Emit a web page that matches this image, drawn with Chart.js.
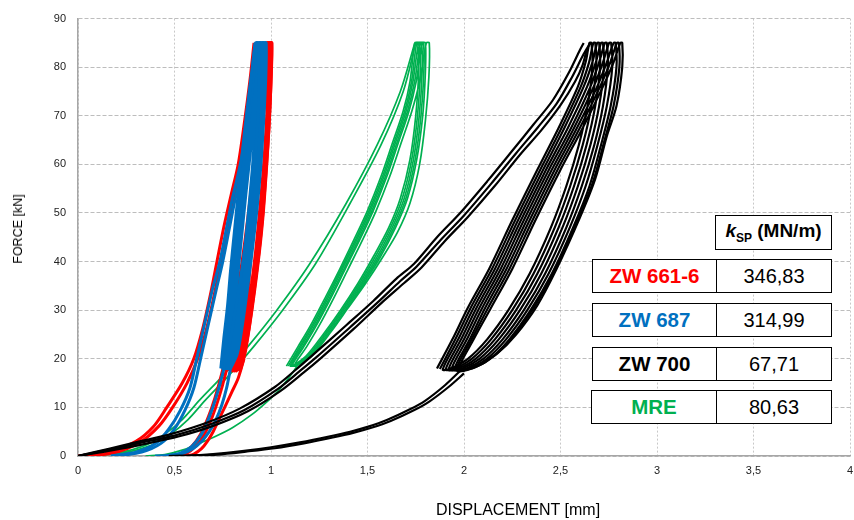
<!DOCTYPE html>
<html>
<head>
<meta charset="utf-8">
<script src="https://cdn.jsdelivr.net/npm/chart.js@4.4.0/dist/chart.umd.min.js"></script>
<style>
  body { margin: 0; background: #fff; }
  #wrap { position: relative; width: 854px; height: 520px; }
  #myChart { position: absolute; left: 0; top: 0; }
  .ttl { position: absolute; font-family: "Liberation Sans", Arial, sans-serif; color: #000; white-space: nowrap; }
  #ytitle { left: 18px; top: 229px; font-size: 12.5px; transform: translate(-50%, -50%) rotate(-90deg); }
  #xtitle { left: 518px; top: 510px; font-size: 16px; transform: translate(-50%, -50%); font-family: "Liberation Sans Narrow", "Arial Narrow", sans-serif; }
  .box { position: absolute; box-sizing: border-box; border: 1px solid #000; background: #fff;
         display: flex; align-items: center; justify-content: center;
         font-family: "Liberation Sans", Arial, sans-serif; font-size: 20px; color: #000; }
  .lbl { font-weight: bold; font-size: 20.5px; }
</style>
</head>
<body>
<div id="wrap">
  <canvas id="myChart" width="854" height="520"></canvas>
  <div class="ttl" id="ytitle">FORCE [kN]</div>
  <div class="ttl" id="xtitle">DISPLACEMENT [mm]</div>
  <div id="table"></div>
</div>
<script>
const ctx = document.getElementById('myChart');

// axis ticks
var xTickLabels = ['0', '0,5', '1', '1,5', '2', '2,5', '3', '3,5', '4'];
var yTickLabels = ['0', '10', '20', '30', '40', '50', '60', '70', '80', '90'];

// table inside the plot
var samples = ['ZW 661-6', 'ZW 687', 'ZW 700', 'MRE'];
var kspValues = ['346,83', '314,99', '67,71', '80,63'];
var sampleColors = ['#ff0000', '#0070c0', '#000000', '#00b050'];

// ZW 661-6 : displacement [mm], force [kN]
var zw661 = [
  [[0,0],[0.15,0.6],[0.3,3],[0.39,6],[0.46,10],[0.54,15],[0.6,20],[0.645,26],[0.685,33],[0.72,40],[0.755,47],[0.795,54],[0.83,60],[0.86,68],[0.89,77],[0.912,85]],
  [[0.03,0],[0.18,0.6],[0.32,2.8],[0.42,6.2],[0.49,10],[0.565,15],[0.62,20],[0.665,26],[0.705,33],[0.74,40],[0.775,47],[0.81,54],[0.845,60],[0.875,68],[0.9,77],[0.92,85]],
  [[0.93,85],[0.935,77],[0.925,68],[0.905,58],[0.88,49],[0.85,40],[0.815,31],[0.78,23],[0.745,17],[0.71,12],[0.675,8],[0.635,4.5],[0.59,2],[0.54,0.5],[0.49,0]],
  [[0.95,85],[0.952,77],[0.942,68],[0.922,58],[0.897,49],[0.868,40],[0.835,31],[0.8,23],[0.765,17],[0.73,12],[0.695,8],[0.655,4.5],[0.61,2],[0.56,0.5],[0.51,0]],
  [[0.78,17.5],[0.805,22],[0.83,29],[0.85,36],[0.87,43],[0.895,52],[0.915,61],[0.935,70],[0.955,78],[0.975,85],
   [0.985,85],[0.985,77],[0.975,68],[0.96,59],[0.94,50],[0.92,42],[0.895,34],[0.865,26],[0.835,20],[0.8,17.5],
   [0.825,22],[0.85,29],[0.87,36],[0.89,43],[0.91,52],[0.93,61],[0.95,70],[0.97,78],[0.99,85],
   [1.0,85],[0.998,77],[0.988,68],[0.975,60],[0.955,50],[0.935,42],[0.91,34],[0.88,26],[0.855,21],[0.82,17.5],
   [0.84,22],[0.865,29],[0.885,36],[0.9,43],[0.92,52],[0.94,61],[0.96,70],[0.978,78],[0.995,85],
   [1.005,85],[1.0,77],[0.99,68],[0.978,60],[0.96,50],[0.94,42],[0.915,34],[0.89,27],[0.865,21],[0.84,17.5]],
  [[0.79,17.5],[0.815,22],[0.84,29],[0.86,36],[0.88,43],[0.903,52],[0.923,61],[0.943,70],[0.962,78],[0.982,85],
   [0.992,85],[0.992,77],[0.982,68],[0.968,59],[0.948,50],[0.928,42],[0.903,34],[0.873,26],[0.845,20],[0.81,17.5],
   [0.833,22],[0.858,29],[0.878,36],[0.896,43],[0.916,52],[0.936,61],[0.956,70],[0.975,78],[0.993,85],
   [1.003,85],[1.0,77],[0.99,68],[0.977,60],[0.958,50],[0.938,42],[0.913,34],[0.885,26],[0.86,21],[0.83,17.5]],
  [[0.86,20],[0.83,16],[0.795,13],[0.76,10],[0.73,7.5],[0.7,5],[0.67,3],[0.64,1.5],[0.6,0.4],[0.56,0]]
];

// ZW 687
var zw687 = [
  [[0.17,0],[0.3,0.8],[0.4,2.5],[0.47,5.5],[0.53,9.4],[0.58,14],[0.615,20],[0.655,27],[0.695,34],[0.735,40],[0.77,47],[0.8,53],[0.83,58],[0.855,63],[0.88,71],[0.9,78],[0.917,85]],
  [[0.2,0],[0.33,0.8],[0.43,2.6],[0.5,5.6],[0.555,9.5],[0.6,14],[0.635,20],[0.675,27],[0.715,34],[0.75,40],[0.785,47],[0.815,53],[0.845,58],[0.868,63],[0.89,71],[0.91,78],[0.925,85]],
  [[0.935,85],[0.94,77],[0.93,68],[0.91,58],[0.885,49],[0.855,40],[0.82,31],[0.785,23],[0.75,17],[0.715,12],[0.68,8],[0.64,4.5],[0.59,2],[0.53,0.6],[0.45,0]],
  [[0.74,18],[0.755,24],[0.775,31],[0.79,38],[0.81,46],[0.83,54],[0.85,62],[0.875,71],[0.9,79],[0.92,85],
   [0.93,85],[0.93,78],[0.92,69],[0.905,60],[0.885,51],[0.865,43],[0.84,35],[0.81,27],[0.785,21],[0.75,18],
   [0.765,24],[0.785,31],[0.8,38],[0.82,46],[0.84,54],[0.862,62],[0.888,71],[0.912,79],[0.935,85],
   [0.945,85],[0.945,78],[0.935,69],[0.92,60],[0.9,51],[0.88,43],[0.855,35],[0.825,27],[0.8,21],[0.765,18],
   [0.78,24],[0.8,31],[0.815,38],[0.835,46],[0.855,54],[0.877,62],[0.902,71],[0.926,79],[0.95,85],
   [0.96,85],[0.96,78],[0.95,69],[0.935,60],[0.915,51],[0.893,43],[0.868,35],[0.84,27],[0.815,21],[0.78,18],
   [0.795,24],[0.815,31],[0.83,38],[0.85,46],[0.87,54],[0.892,62],[0.916,71],[0.94,79],[0.965,85],
   [0.975,85],[0.973,78],[0.962,69],[0.948,60],[0.928,51],[0.905,43],[0.88,35],[0.852,27],[0.825,21],[0.79,18]],
  [[0.747,18],[0.762,24],[0.782,31],[0.797,38],[0.817,46],[0.837,54],[0.857,62],[0.882,71],[0.907,79],[0.927,85],
   [0.937,85],[0.937,78],[0.927,69],[0.912,60],[0.892,51],[0.872,43],[0.847,35],[0.817,27],[0.792,21],[0.757,18],
   [0.772,24],[0.792,31],[0.807,38],[0.827,46],[0.847,54],[0.869,62],[0.895,71],[0.919,79],[0.942,85],
   [0.952,85],[0.952,78],[0.942,69],[0.927,60],[0.907,51],[0.887,43],[0.862,35],[0.832,27],[0.807,21],[0.772,18],
   [0.787,24],[0.807,31],[0.822,38],[0.842,46],[0.862,54],[0.884,62],[0.909,71],[0.933,79],[0.957,85],
   [0.967,85],[0.967,78],[0.957,69],[0.942,60],[0.922,51],[0.9,43],[0.875,35],[0.847,27],[0.822,21],[0.787,18]],
  [[0.79,18],[0.77,14],[0.745,10.5],[0.715,7.5],[0.68,5],[0.64,3],[0.595,1.5],[0.54,0.5],[0.47,0.1],[0.4,0]]
];

// ZW 700
var zw700 = [
  [[0,0],[0.17,1.4],[0.345,2.9],[0.5,4.2],[0.69,6.6],[0.86,9.4],[1.036,13.8],[1.15,17.5],[1.24,20.5],[1.41,26.5],[1.55,31.5],[1.67,36],[1.755,39],[1.88,44.5],[2.0,49.5],[2.14,56],[2.27,62.3],[2.38,67.5],[2.48,72.5],[2.56,78],[2.62,82.7],[2.655,85]],
  [[0,0],[0.18,1.2],[0.36,2.6],[0.52,4.0],[0.7,6.2],[0.88,9.2],[1.05,13.4],[1.17,17.2],[1.26,20.2],[1.43,26.2],[1.57,31.4],[1.69,35.6],[1.78,38.8],[1.9,44.2],[2.02,49.2],[2.16,55.6],[2.29,62],[2.4,67],[2.5,72.2],[2.575,77],[2.615,80.5],[2.635,83.5]],
  [[0,0],[0.16,1.5],[0.33,3.1],[0.48,4.5],[0.67,6.9],[0.84,9.8],[1.02,14.2],[1.13,17.8],[1.22,20.9],[1.39,26.9],[1.53,31.9],[1.65,36.5],[1.74,39.5],[1.86,45],[1.98,50],[2.12,56.5],[2.25,62.8],[2.36,68.2],[2.46,73.2],[2.545,79],[2.6,83.5],[2.62,85]],
  [[1.86,18],[1.94,24],[2.02,30.5],[2.13,38.5],[2.25,48.5],[2.38,58.9],[2.49,67.5],[2.59,76],[2.63,81],[2.65,85],
   [2.66,85],[2.665,80],[2.64,72],[2.595,64],[2.53,55.5],[2.45,47],[2.34,37.5],[2.23,30],[2.12,24],[2.02,20],[1.93,18],[1.89,17.8],
   [1.97,24],[2.05,30.5],[2.16,38.5],[2.28,48.5],[2.41,58.9],[2.52,67.5],[2.62,76],[2.665,81],[2.69,85],
   [2.7,85],[2.705,80],[2.68,72],[2.635,64],[2.57,55.5],[2.49,47],[2.38,37.5],[2.27,30],[2.16,24],[2.06,20],[1.97,18],[1.92,17.8],
   [2.0,24],[2.08,30.5],[2.19,38.5],[2.31,48.5],[2.44,58.9],[2.555,67.5],[2.655,76],[2.7,81],[2.73,85],
   [2.74,85],[2.745,80],[2.72,72],[2.675,64],[2.61,55.5],[2.53,47],[2.42,37.5],[2.31,30],[2.2,24],[2.1,20],[2.01,18],[1.95,17.8],
   [2.03,24],[2.11,30.5],[2.22,38.5],[2.34,48.5],[2.47,58.9],[2.585,67.5],[2.69,76],[2.74,81],[2.775,85],
   [2.785,85],[2.79,80],[2.76,72],[2.71,64],[2.65,55.5],[2.565,47],[2.455,37.5],[2.345,30],[2.235,24],[2.135,20],[2.04,18],[1.97,17.6],
   [2.05,24],[2.14,30.5],[2.25,38.5],[2.37,48.5],[2.5,58.9],[2.615,67.5],[2.72,76],[2.775,81],[2.81,85],
   [2.82,85],[2.82,80],[2.79,72],[2.74,65.8],[2.68,57],[2.6,49],[2.48,38.5],[2.38,31],[2.27,25],[2.17,21],[2.07,18.5],[1.98,17.5]],
  [[1.875,17.9],[1.955,24],[2.035,30.5],[2.145,38.5],[2.265,48.5],[2.395,58.9],[2.505,67.5],[2.605,76],[2.648,81],[2.67,85],
   [2.68,85],[2.685,80],[2.66,72],[2.615,64],[2.55,55.5],[2.47,47],[2.36,37.5],[2.25,30],[2.14,24],[2.04,20],[1.95,18],[1.905,17.8],
   [1.985,24],[2.065,30.5],[2.175,38.5],[2.295,48.5],[2.425,58.9],[2.538,67.5],[2.638,76],[2.683,81],[2.71,85],
   [2.72,85],[2.725,80],[2.7,72],[2.655,64],[2.59,55.5],[2.51,47],[2.4,37.5],[2.29,30],[2.18,24],[2.08,20],[1.99,18],[1.935,17.8],
   [2.015,24],[2.095,30.5],[2.205,38.5],[2.325,48.5],[2.455,58.9],[2.57,67.5],[2.672,76],[2.72,81],[2.752,85],
   [2.762,85],[2.768,80],[2.74,72],[2.692,64],[2.63,55.5],[2.548,47],[2.438,37.5],[2.328,30],[2.218,24],[2.118,20],[2.025,18],[1.96,17.7],
   [2.04,24],[2.125,30.5],[2.235,38.5],[2.355,48.5],[2.485,58.9],[2.6,67.5],[2.705,76],[2.758,81],[2.792,85],
   [2.802,85],[2.805,80],[2.775,72],[2.725,64.5],[2.665,56],[2.582,48],[2.468,38],[2.362,30.5],[2.252,24.5],[2.152,20.5],[2.055,18.2],[1.975,17.5]],
  [[1.98,17.5],[1.9,14.5],[1.8,11.4],[1.72,9.6],[1.6,7.4],[1.5,6],[1.41,5],[1.3,4],[1.15,2.8],[1.0,1.8],[0.85,1],[0.7,0.4],[0.55,0.05],[0.47,0]],
  [[2.0,17],[1.92,14.2],[1.82,11.2],[1.74,9.4],[1.62,7.2],[1.52,5.8],[1.43,4.8],[1.32,3.8],[1.17,2.6],[1.02,1.6],[0.87,0.9],[0.72,0.3],[0.58,0.05],[0.5,0]]
];

// MRE
var mre = [
  [[0,0],[0.2,0.6],[0.35,2.2],[0.45,4.5],[0.54,7.5],[0.63,11.5],[0.75,16.5],[0.88,22.5],[1.03,30],[1.2,39.5],[1.39,52],[1.55,64],[1.67,75],[1.745,85]],
  [[0.03,0],[0.23,0.6],[0.38,2.2],[0.48,4.5],[0.57,7.5],[0.66,11.5],[0.78,16.5],[0.91,22.5],[1.06,30],[1.23,39.5],[1.41,52],[1.57,64],[1.685,75],[1.75,85]],
  [[1.08,18.5],[1.14,22.5],[1.2,26.5],[1.28,32.5],[1.357,38.5],[1.43,44.5],[1.5,50.5],[1.57,57.5],[1.63,64.5],[1.685,71],[1.72,77],[1.745,85],
   [1.76,85],[1.765,79],[1.75,70],[1.72,61],[1.67,53],[1.61,47],[1.53,41],[1.45,35.5],[1.36,30],[1.27,25],[1.18,20.5],[1.1,18.5],
   [1.155,22.5],[1.215,26.5],[1.295,32.5],[1.37,38.5],[1.445,44.5],[1.515,50.5],[1.585,57.5],[1.645,64.5],[1.7,71],[1.735,77],[1.765,85],
   [1.78,85],[1.783,79],[1.768,70],[1.738,61],[1.69,53],[1.628,47],[1.55,41],[1.466,35.5],[1.375,30],[1.285,25],[1.195,20.5],[1.11,18.5],
   [1.17,22.5],[1.23,26.5],[1.31,32.5],[1.385,38.5],[1.46,44.5],[1.53,50.5],[1.6,57.5],[1.66,64.5],[1.715,71],[1.752,77],[1.785,85],
   [1.8,85],[1.8,79],[1.786,70],[1.755,61],[1.707,53],[1.645,47],[1.567,41],[1.48,35.5],[1.39,30],[1.3,25],[1.21,20.5],[1.12,18.5],
   [1.185,22.5],[1.245,26.5],[1.325,32.5],[1.4,38.5],[1.475,44.5],[1.545,50.5],[1.615,57.5],[1.675,64.5],[1.73,71],[1.77,77],[1.805,85],
   [1.82,85],[1.818,78],[1.8,69],[1.77,60],[1.72,52],[1.655,46],[1.58,41],[1.49,35.5],[1.4,30.5],[1.31,25.5],[1.22,21],[1.14,18.8]],
  [[1.09,18.5],[1.148,22.5],[1.208,26.5],[1.288,32.5],[1.364,38.5],[1.438,44.5],[1.508,50.5],[1.578,57.5],[1.638,64.5],[1.693,71],[1.728,77],[1.755,85],
   [1.77,85],[1.774,79],[1.759,70],[1.729,61],[1.68,53],[1.619,47],[1.54,41],[1.458,35.5],[1.368,30],[1.278,25],[1.188,20.5],[1.105,18.5],
   [1.163,22.5],[1.223,26.5],[1.303,32.5],[1.378,38.5],[1.453,44.5],[1.523,50.5],[1.593,57.5],[1.653,64.5],[1.708,71],[1.744,77],[1.775,85],
   [1.79,85],[1.792,79],[1.777,70],[1.747,61],[1.699,53],[1.637,47],[1.559,41],[1.473,35.5],[1.383,30],[1.293,25],[1.203,20.5],[1.115,18.5]],
  [[1.14,18.8],[1.1,16.5],[1.04,13.5],[0.98,11.2],[0.9,8.5],[0.8,5.8],[0.7,3.8],[0.62,2.5],[0.54,1.2],[0.45,0.3],[0.35,0]]
];

var series = [
  { lines: zw700, color: '#000000', width: 2.2, order: 1 },
  { lines: zw687, color: '#0070c0', width: 3, order: 2 },
  { lines: zw661, color: '#ff0000', width: 3, order: 3 },
  { lines: mre, color: '#00b050', width: 1.7, order: 4 }
];

var datasets = [];
series.forEach(function (s) {
  s.lines.forEach(function (line) {
    datasets.push({
      data: line.map(function (p) { return { x: p[0], y: p[1] }; }),
      showLine: true,
      borderColor: s.color,
      borderWidth: s.width,
      pointRadius: 0,
      tension: 0.3,
      fill: false,
      order: s.order
    });
  });
});

// the k_SP table
var table = document.getElementById('table');
function addBox(left, top, w, h, html, color, bold) {
  var d = document.createElement('div');
  d.className = 'box' + (bold ? ' lbl' : '');
  d.style.left = left + 'px';
  d.style.top = top + 'px';
  d.style.width = w + 'px';
  d.style.height = h + 'px';
  d.style.color = color;
  d.innerHTML = html;
  table.appendChild(d);
}
addBox(715, 215, 117, 35, '<span style="font-size:19px"><i>k</i><sub style="font-size:12px">SP</sub> (MN/m)</span>', '#000', true);
var rowTops = [259, 303, 347, 390];
samples.forEach(function (name, i) {
  addBox(592 - (i == 3 ? 1 : 0), rowTops[i], 125 + (i == 3 ? 1 : 0), 34, name, sampleColors[i], true);
  addBox(716, rowTops[i], 116, 34, kspValues[i], '#000', false);
});

new Chart(ctx, {
  type: 'scatter',
  data: { datasets: datasets },
  options: {
    responsive: false,
    animation: false,
    layout: { padding: { left: 0, right: 4, top: 14, bottom: 0 } },
    plugins: { legend: { display: false }, tooltip: { enabled: false } },
    scales: {
      x: {
        min: 0, max: 4,
        afterFit: function (s) { s.height = 64; s.paddingRight = 0; },
        ticks: {
          stepSize: 0.5,
          padding: 8,
          color: '#222',
          font: { family: '"Liberation Sans Narrow", "Arial Narrow", sans-serif', size: 11 },
          callback: function (v, i) { return xTickLabels[i]; }
        },
        grid: { color: '#c8c8c8', drawTicks: false, lineWidth: 1 },
        border: { display: true, color: '#a6a6a6', width: 1.5, dash: [2, 2] }
      },
      y: {
        min: 0, max: 90,
        afterFit: function (s) { s.width = 78; },
        ticks: {
          stepSize: 10,
          padding: 12,
          color: '#222',
          font: { family: '"Liberation Sans", Arial, sans-serif', size: 11 },
          callback: function (v, i) { return yTickLabels[i]; }
        },
        grid: { color: '#bdbdbd', drawTicks: false, lineWidth: 1 },
        border: { display: true, color: '#a6a6a6', width: 1.5, dash: [4, 2] }
      }
    }
  }
});
</script>
</body>
</html>
